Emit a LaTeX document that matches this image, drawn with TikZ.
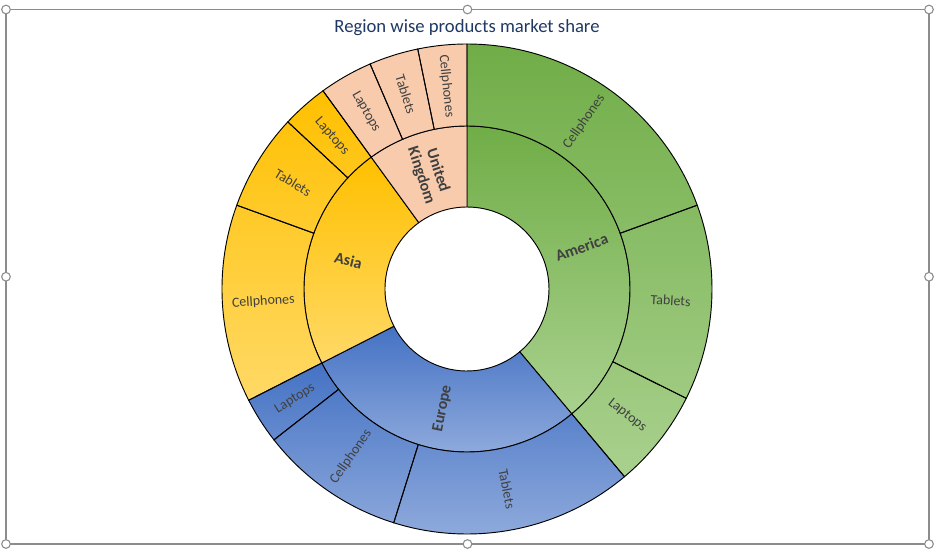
\documentclass[tikz,border=0pt]{standalone}
\usepackage{fontspec}
\setmainfont{Carlito}
\definecolor{amerTop}{HTML}{70AD47}
\definecolor{amerBot}{HTML}{A9D18E}
\definecolor{euroTop}{HTML}{4472C4}
\definecolor{euroBot}{HTML}{8FAADC}
\definecolor{asiaTop}{HTML}{FFC000}
\definecolor{asiaBot}{HTML}{FFD966}
\definecolor{ukFill}{HTML}{F8CBAD}
\definecolor{titleBlue}{HTML}{1F3864}
\definecolor{labelGray}{HTML}{404040}
\definecolor{frameGray}{HTML}{8C8C8C}

\begin{document}
\begin{tikzpicture}[x=0.75pt, y=0.75pt,
    segment/.style={draw=black, line width=0.7pt},
    outerlabel/.style={font=\fontsize{10.5}{12}\selectfont, text=labelGray, inner sep=0pt},
    innerlabel/.style={font=\fontsize{12}{13}\selectfont\bfseries, text=labelGray, align=center, inner sep=0pt},
    title/.style={font=\fontsize{14}{16}\selectfont, text=titleBlue},
    handle/.style={circle, draw=frameGray, fill=white, line width=0.8pt, minimum size=6.5pt, inner sep=0pt}
]
    \useasboundingbox (-467,-265) rectangle (474,289);

    % Selection frame
    \coordinate (tl) at (-461,279.5);
    \coordinate (br) at (462,-255);
    \draw[frameGray, line width=0.8pt] (tl) rectangle (br);

    % Title
    \node[title] (title) at (0,261) {Region wise products market share};

    % Regions: inner ring, and the shaded background of their outer ring
    \foreach \a/\b/\name/\txt/\ctop/\cbot in {
        90/-50/america/America/amerTop/amerBot,
        -50/-153/europe/Europe/euroTop/euroBot,
        207/126/asia/Asia/asiaTop/asiaBot,
        126/90/uk/{United\\Kingdom}/ukFill/ukFill}
    {
        \draw[segment, top color=\ctop, bottom color=\cbot]
            (\a:61.5pt) arc[start angle=\a, end angle=\b, radius=61.5pt]
            -- (\b:122.25pt) arc[start angle=\b, end angle=\a, radius=122.25pt] -- cycle;
        \shade[top color=\ctop, bottom color=\cbot]
            (\a:122.25pt) arc[start angle=\a, end angle=\b, radius=122.25pt]
            -- (\b:183.75pt) arc[start angle=\b, end angle=\a, radius=183.75pt] -- cycle;
        \pgfmathsetmacro{\mid}{(\a+\b)/2}
        \pgfmathsetmacro{\rot}{cos(\mid)<0 ? \mid+180 : \mid}
        \node[innerlabel, rotate=\rot] (\name) at (\mid:91.5pt) {\txt};
    }

    % Products (outer ring)
    \foreach \a/\b/\name/\txt in {
        90/20/america-cell/Cellphones,
        20/-26.5/america-tab/Tablets,
        -26.5/-50/america-lap/Laptops,
        -50/-107.4/europe-tab/Tablets,
        -107.4/-142/europe-cell/Cellphones,
        -142/-153/europe-lap/Laptops,
        207/160/asia-cell/Cellphones,
        160/137/asia-tab/Tablets,
        137/126/asia-lap/Laptops,
        126/113.3/uk-lap/Laptops,
        113.3/101.6/uk-tab/Tablets,
        101.6/90/uk-cell/Cellphones}
    {
        \draw[segment]
            (\a:122.25pt) arc[start angle=\a, end angle=\b, radius=122.25pt]
            -- (\b:183.75pt) arc[start angle=\b, end angle=\a, radius=183.75pt] -- cycle;
        \pgfmathsetmacro{\mid}{(\a+\b)/2}
        \pgfmathsetmacro{\rot}{cos(\mid)<0 ? \mid+180 : \mid}
        \node[outerlabel, rotate=\rot] (\name) at (\mid:153pt) {\txt};
    }

    % Handles
    \foreach \x/\y/\name in {-461/279.5/h-tl, 0.5/279.5/h-t, 462/279.5/h-tr,
                             -461/12.25/h-l, 462/12.25/h-r,
                             -461/-255/h-bl, 0.5/-255/h-b, 462/-255/h-br}
        \node[handle] (\name) at (\x,\y) {};
\end{tikzpicture}
\end{document}
